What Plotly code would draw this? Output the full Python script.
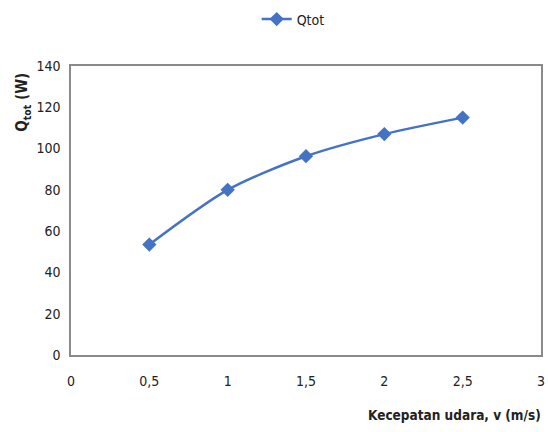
import plotly.graph_objects as go

v = [0.5, 1, 1.5, 2, 2.5]
qtot = [53.5, 80, 96.3, 107, 115]
x_ticks = [0, 0.5, 1, 1.5, 2, 2.5, 3]
x_tick_labels = ["0", "0,5", "1", "1,5", "2", "2,5", "3"]
y_ticks = [0, 20, 40, 60, 80, 100, 120, 140]

FONT = "DejaVu Sans Condensed, Liberation Sans Narrow, sans-serif"

fig = go.Figure()
fig.add_trace(go.Scatter(
    x=v, y=qtot, name="Qtot", mode="lines+markers",
    line=dict(color="#4472C4", width=2.5, shape="spline", smoothing=0.8),
    marker=dict(symbol="diamond", size=11, color="#4472C4"),
))

fig.update_layout(
    width=548, height=432,
    margin=dict(l=71, r=7, t=66, b=77, autoexpand=False),
    paper_bgcolor="white", plot_bgcolor="white",
    font=dict(family=FONT, size=14, color="#222"),
    showlegend=True,
    legend=dict(orientation="h", x=0.535, xanchor="center", xref="container",
                y=0.955, yanchor="middle", yref="container",
                font=dict(size=14, family=FONT)),
    xaxis=dict(range=[0, 3], tickvals=x_ticks, ticktext=x_tick_labels,
               showgrid=False, zeroline=False, showline=True, linecolor="#8a8a8a",
               linewidth=1.5, mirror=True, ticks="", ticklabelstandoff=12),
    yaxis=dict(range=[0, 140], tickvals=y_ticks, showgrid=False, zeroline=False,
               showline=True, linecolor="#8a8a8a", linewidth=1.5, mirror=True,
               ticks="", ticklabelstandoff=6),
    annotations=[
        dict(text="<b>Kecepatan udara, v (m/s)</b>", xref="paper", yref="paper",
             x=1.005, y=-0.208, xanchor="right", yanchor="middle", showarrow=False,
             font=dict(size=13.5, family=FONT)),
        dict(text="<b>Q<sub>tot</sub> (W)</b>", xref="paper", yref="paper",
             x=-0.103, y=0.875, xanchor="center", yanchor="middle", showarrow=False,
             textangle=-90, font=dict(size=15, family=FONT)),
    ],
)

fig.write_html("out.html", config={"displayModeBar": False},
               post_script="document.body.style.margin='0';")
